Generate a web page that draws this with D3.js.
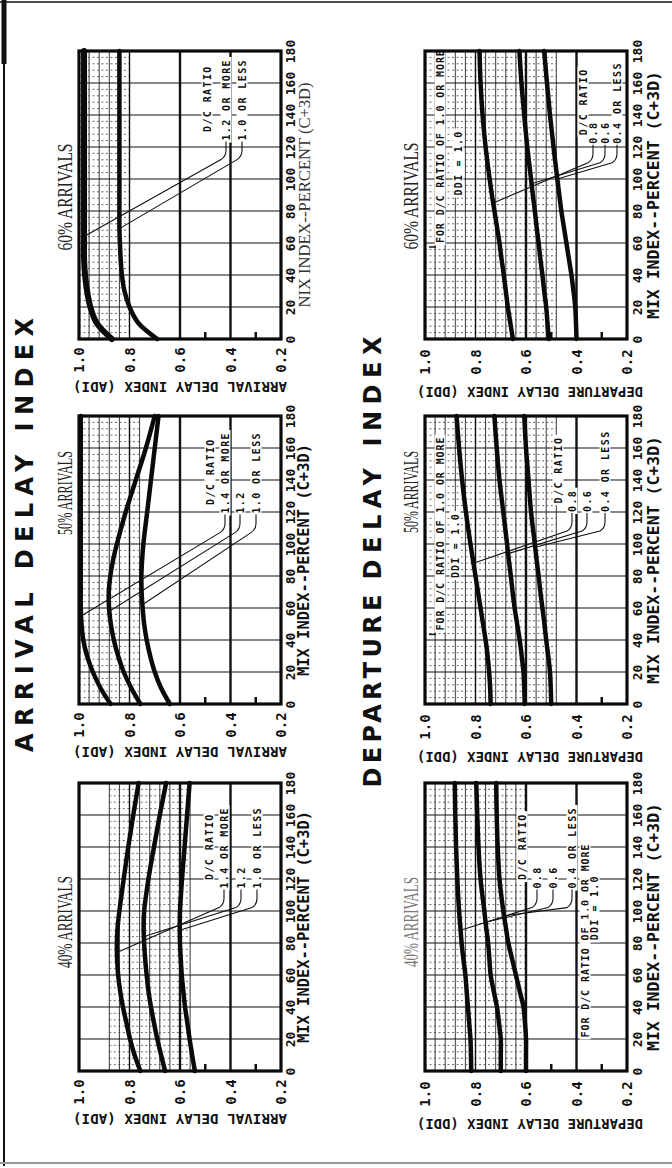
<!DOCTYPE html>
<html>
<head>
<meta charset="utf-8">
<script src="https://cdn.jsdelivr.net/npm/d3@7"></script>
<style>
  body { margin: 0; background: #fff; }
  svg text { font-family: "DejaVu Sans Mono", "Liberation Mono", monospace; font-weight: bold; fill: #111; }
  svg text.serif { font-family: "Liberation Serif", "DejaVu Serif", serif; font-weight: normal; }
  svg text.big { font-family: "DejaVu Sans", "Liberation Sans", sans-serif; font-weight: bold; }
</style>
</head>
<body>
<svg id="chart" width="672" height="1168"></svg>
<script>
// ---- data ----
var mixIndex = [0, 10, 20, 30, 40, 50, 60, 70, 80, 90, 100, 120, 140, 160, 180];
var indexTicks = [1.0, 0.8, 0.6, 0.4, 0.2];
var mixTicks = [0, 20, 40, 60, 80, 100, 120, 140, 160, 180];

var arrLabels2 = ["1.2 OR MORE", "1.0 OR LESS"];
var arrLabels3 = ["1.4 OR MORE", "1.2", "1.0 OR LESS"];
var depLabels = ["0.8", "0.6", "0.4 OR LESS"];

// arrival delay index (ADI), one value per mixIndex point
var adi60_12up = [0.87, 0.93, 0.955, 0.968, 0.976, 0.98, 0.98, 0.98, 0.98, 0.98, 0.98, 0.98, 0.98, 0.98, 0.98];
var adi60_10dn = [0.69, 0.765, 0.80, 0.82, 0.83, 0.835, 0.838, 0.84, 0.84, 0.84, 0.84, 0.84, 0.84, 0.84, 0.84];
var adi50_14up = [0.875, 0.915, 0.945, 0.968, 0.983, 0.99, 0.993, 0.993, 0.993, 0.993, 0.993, 0.993, 0.993, 0.993, 0.993];
var adi50_12 = [0.757, 0.793, 0.823, 0.845, 0.862, 0.874, 0.881, 0.882, 0.876, 0.865, 0.85, 0.815, 0.775, 0.735, 0.70];
var adi50_10dn = [0.64, 0.675, 0.70, 0.718, 0.732, 0.742, 0.748, 0.752, 0.753, 0.75, 0.745, 0.73, 0.715, 0.70, 0.685];
var adi40_14up = [0.757, 0.78, 0.798, 0.812, 0.826, 0.837, 0.845, 0.849, 0.85, 0.847, 0.84, 0.823, 0.805, 0.785, 0.764];
var adi40_12 = [0.659, 0.675, 0.69, 0.703, 0.715, 0.725, 0.732, 0.738, 0.742, 0.744, 0.742, 0.725, 0.703, 0.68, 0.655];
var adi40_10dn = [0.541, 0.552, 0.562, 0.571, 0.58, 0.587, 0.593, 0.597, 0.60, 0.601, 0.60, 0.592, 0.582, 0.572, 0.562];

// departure delay index (DDI)
var ddi60_08 = [0.652, 0.662, 0.672, 0.68, 0.688, 0.697, 0.705, 0.715, 0.725, 0.735, 0.744, 0.76, 0.772, 0.78, 0.784];
var ddi60_06 = [0.51, 0.515, 0.52, 0.528, 0.535, 0.543, 0.55, 0.558, 0.565, 0.573, 0.58, 0.595, 0.607, 0.618, 0.626];
var ddi60_04dn = [0.40, 0.402, 0.405, 0.412, 0.42, 0.43, 0.44, 0.45, 0.46, 0.468, 0.476, 0.491, 0.505, 0.517, 0.528];
var ddi50_08 = [0.74, 0.742, 0.746, 0.752, 0.76, 0.77, 0.78, 0.79, 0.80, 0.81, 0.82, 0.838, 0.853, 0.865, 0.875];
var ddi50_06 = [0.605, 0.607, 0.61, 0.617, 0.625, 0.635, 0.645, 0.653, 0.66, 0.668, 0.675, 0.69, 0.705, 0.716, 0.725];
var ddi50_04dn = [0.50, 0.502, 0.505, 0.512, 0.52, 0.527, 0.535, 0.543, 0.55, 0.558, 0.565, 0.58, 0.59, 0.60, 0.607];
var ddi40_08 = [0.817, 0.818, 0.82, 0.825, 0.83, 0.835, 0.84, 0.848, 0.855, 0.86, 0.865, 0.872, 0.877, 0.88, 0.882];
var ddi40_06 = [0.70, 0.70, 0.70, 0.707, 0.715, 0.728, 0.74, 0.745, 0.75, 0.758, 0.765, 0.78, 0.788, 0.793, 0.797];
var ddi40_04dn = [0.60, 0.60, 0.60, 0.604, 0.61, 0.625, 0.64, 0.655, 0.67, 0.68, 0.69, 0.705, 0.712, 0.716, 0.718];

// ---- layout ----
var svg = d3.select("#chart");
var colLeft = { arr: 79, dep: 425 };
var rowTop = [51, 416, 783];
var boxW = 202, boxH = 288;

var panels = [
  { kind: "arr", row: 0, title: "60% ARRIVALS", tLen: 107, tY: 197, series: [adi60_12up, adi60_10dn], labels: arrLabels2,
    cols: [-74, -55, -39], legendMix: 124, leaderMix: [64, 69], fine: [0, 5], mixTitle: "NIX INDEX--PERCENT (C+3D)" },
  { kind: "arr", row: 1, title: "50% ARRIVALS", tLen: 84, tY: 493, series: [adi50_14up, adi50_12, adi50_10dn], labels: arrLabels3,
    cols: [-71, -56, -41, -25], legendMix: 119, leaderMix: [55, 58, 62], fine: [0, 6] },
  { kind: "arr", row: 2, title: "40% ARRIVALS", tLen: 92, tY: 922, series: [adi40_14up, adi40_12, adi40_10dn], labels: arrLabels3,
    cols: [-72, -57, -40, -24], legendMix: 114, leaderMix: [74, 84, 88], fine: [3, 11] },
  { kind: "dep", row: 0, title: "60% ARRIVALS", tLen: 107, tY: 196, series: [ddi60_08, ddi60_06, ddi60_04dn], labels: depLabels,
    cols: [-44, -34, -22, -10], legendMix: 122, leaderMix: [85, 97, 100], fine: [0, 13],
    note: { x: 440, mix: 60, ddiX: 458, ddiMix: 110, stub: true } },
  { kind: "dep", row: 1, title: "50% ARRIVALS", tLen: 82, tY: 492, series: [ddi50_08, ddi50_06, ddi50_04dn], labels: depLabels,
    cols: [-69, -55, -40, -22], legendMix: 120, leaderMix: [88, 94, 98], fine: [0, 13],
    note: { x: 440, mix: 46, ddiX: 455, ddiMix: 99, stub: true } },
  { kind: "dep", row: 2, title: "40% ARRIVALS", tLen: 90, tY: 922, titleFill: "#777", series: [ddi40_08, ddi40_06, ddi40_04dn], labels: depLabels,
    cols: [-105, -90, -74, -55], legendMix: 114, leaderMix: [88, 93, 97], fine: [0, 10],
    note: { x: 585, mix: 21, ddiX: 594, ddiMix: 102, stub: false } }
];

// rotated (bottom-to-top) text, optionally with a white patch behind it
function vtext(g, x, y, str, o) {
  o = o || {};
  var t = g.append("g").attr("transform", "translate(" + x + "," + y + ") rotate(" + (o.rot || -90) + ")");
  var bg = o.bg ? t.append("rect").attr("fill", "#fff") : null;
  var tx = t.append("text")
    .attr("dy", "0.35em")
    .attr("text-anchor", o.anchor || "start")
    .style("font-size", (o.size || 10) + "px")
    .text(str);
  if (o.cls) tx.attr("class", o.cls);
  if (o.spacing) tx.style("letter-spacing", o.spacing + "px");
  if (o.len) tx.attr("textLength", o.len).attr("lengthAdjust", o.adjust || "spacingAndGlyphs");
  if (o.fill) tx.style("fill", o.fill);
  if (bg) {
    var b = tx.node().getBBox();
    bg.attr("x", b.x - 2).attr("y", b.y).attr("width", b.width + 4).attr("height", b.height);
  }
  return tx;
}

// ---- page frame ----
svg.append("line").attr("x1", 0).attr("x2", 672).attr("y1", 2).attr("y2", 2).attr("stroke", "#111").attr("stroke-width", 1.5);
svg.append("line").attr("x1", 4).attr("x2", 4).attr("y1", 0).attr("y2", 1166).attr("stroke", "#111").attr("stroke-width", 2);
svg.append("line").attr("x1", 4).attr("x2", 4).attr("y1", 0).attr("y2", 64).attr("stroke", "#111").attr("stroke-width", 5);
svg.append("line").attr("x1", 0).attr("x2", 672).attr("y1", 1163).attr("y2", 1163).attr("stroke", "#999").attr("stroke-width", 2);

// ---- big titles ----
vtext(svg, 25, 535, "ARRIVAL DELAY INDEX", { cls: "big", size: 24, anchor: "middle", len: 434, adjust: "spacing" });
vtext(svg, 373, 691, "DEPARTURE", { cls: "big", size: 24, anchor: "middle", len: 193, adjust: "spacing" });
vtext(svg, 373, 458, "DELAY INDEX", { cls: "big", size: 24, anchor: "middle", len: 243, adjust: "spacing" });

// ---- panels ----
panels.forEach(function (p) {
  var x0 = colLeft[p.kind], x1 = x0 + boxW;
  var top = rowTop[p.row], bottom = top + boxH;
  var idx = d3.scaleLinear().domain([1.0, 0.2]).range([x0, x1]);
  var mix = d3.scaleLinear().domain([0, 180]).range([bottom, top]);
  var g = svg.append("g");

  // fine grid (steps of 0.04 in index, 4 in mix index)
  var fineIdx = d3.range(p.fine[0], p.fine[1] + 1).map(function (k) { return +(1 - k * 0.04).toFixed(2); });
  g.selectAll(".fv").data(fineIdx).enter().append("line")
    .attr("x1", function (d) { return idx(d); }).attr("x2", function (d) { return idx(d); })
    .attr("y1", top).attr("y2", bottom)
    .attr("stroke", "#222").attr("stroke-width", 0.9);
  var fineMix = d3.range(4, 180, 4).filter(function (m) { return m % 20 !== 0; });
  g.selectAll(".fh").data(fineMix).enter().append("line")
    .attr("x1", idx(fineIdx[0])).attr("x2", idx(fineIdx[fineIdx.length - 1]))
    .attr("y1", function (d) { return mix(d); }).attr("y2", function (d) { return mix(d); })
    .attr("stroke", "#444").attr("stroke-width", 0.8).attr("stroke-dasharray", "2,2.5");

  // major grid
  g.selectAll(".hm").data(d3.range(20, 180, 20)).enter().append("line")
    .attr("x1", x0).attr("x2", x1)
    .attr("y1", function (d) { return mix(d); }).attr("y2", function (d) { return mix(d); })
    .attr("stroke", "#111").attr("stroke-width", 1.2);
  g.selectAll(".vm").data([0.8, 0.6, 0.4]).enter().append("line")
    .attr("x1", function (d) { return idx(d); }).attr("x2", function (d) { return idx(d); })
    .attr("y1", top).attr("y2", bottom)
    .attr("stroke", "#111").attr("stroke-width", function (d) { return d === 0.8 ? 1.4 : 2.4; });
  g.selectAll(".tk").data([0.5, 0.3]).enter().append("line")
    .attr("x1", function (d) { return idx(d); }).attr("x2", function (d) { return idx(d); })
    .attr("y1", bottom).attr("y2", bottom - 7)
    .attr("stroke", "#111").attr("stroke-width", 2.5);

  // curves
  var line = d3.line()
    .x(function (d) { return idx(d[1]); })
    .y(function (d) { return mix(d[0]); })
    .curve(d3.curveCatmullRom.alpha(0.5));
  p.series.forEach(function (s, i) {
    g.append("path")
      .datum(mixIndex.map(function (m, j) { return [m, s[j]]; }))
      .attr("d", line)
      .attr("fill", "none").attr("stroke", "#0a0a0a")
      .attr("stroke-width", (p.kind === "arr" && p.row === 0 && i === 0) ? 6 : 4.5)
      .attr("stroke-linecap", "round");
  });

  // legend
  var yStart = mix(p.legendMix);
  vtext(g, x1 + p.cols[0], yStart - 42, "D/C RATIO", { size: 10, anchor: "middle", spacing: 1.4, bg: true });
  p.labels.forEach(function (lab, i) {
    var cx = x1 + p.cols[i + 1];
    vtext(g, cx, yStart, lab, { size: 10, anchor: "start", spacing: 1.4, bg: true });
    var at = d3.scaleLinear().domain(mixIndex).range(p.series[i]);
    var ex = idx(at(p.leaderMix[i])), ey = mix(p.leaderMix[i]);
    var path = d3.path();
    path.moveTo(cx, yStart + 1);
    path.lineTo(cx, yStart + 10);
    path.quadraticCurveTo(cx, yStart + 16, cx - 5, yStart + 19);
    path.lineTo(ex, ey);
    g.append("path").attr("d", path.toString())
      .attr("fill", "none").attr("stroke", "#111").attr("stroke-width", 1.1);
  });

  // departure note
  if (p.note) {
    var ny = mix(p.note.mix);
    vtext(g, p.note.x, ny, "FOR D/C RATIO OF 1.0 OR MORE", { size: 10, anchor: "start", spacing: 0.9, bg: true });
    vtext(g, p.note.ddiX, mix(p.note.ddiMix), "DDI = 1.0", { size: 10, anchor: "middle", spacing: 1.2, bg: true });
    if (p.note.stub) {
      g.append("line").attr("x1", x0 + 4).attr("x2", p.note.x - 4)
        .attr("y1", ny + 4).attr("y2", ny + 4).attr("stroke", "#111").attr("stroke-width", 1.5);
    }
  }

  // frame
  g.append("rect").attr("x", x0).attr("y", top).attr("width", boxW).attr("height", boxH)
    .attr("fill", "none").attr("stroke", "#0a0a0a").attr("stroke-width", 3.2);

  // index axis (below the box after rotation)
  var ax = g.append("g").attr("transform", "translate(0," + bottom + ")")
    .call(d3.axisBottom(idx).tickValues(indexTicks).tickSize(0).tickFormat(d3.format(".1f")));
  ax.select(".domain").remove();
  ax.selectAll("text")
    .attr("y", 0).attr("dy", "0.35em")
    .attr("transform", "translate(0," + (p.kind === "arr" ? 21 : 23) + ") rotate(-90)")
    .attr("text-anchor", "middle")
    .style("font-size", "14px");

  // mix index axis (right of the box after rotation)
  var ay = g.append("g").attr("transform", "translate(" + x1 + ",0)")
    .call(d3.axisRight(mix).tickValues(mixTicks).tickSize(0));
  ay.select(".domain").remove();
  ay.selectAll("text")
    .attr("x", 0).attr("dy", "0.35em")
    .attr("transform", "translate(" + (p.kind === "arr" ? 9 : 10) + ",0) rotate(-90)")
    .attr("text-anchor", "middle")
    .style("font-size", "13px");

  // axis titles
  var cxm = (x0 + x1) / 2, cym = (top + bottom) / 2;
  vtext(g, cxm + (p.kind === "arr" ? 0 : 4), bottom + (p.kind === "arr" ? 48 : 53),
    p.kind === "arr" ? "ARRIVAL DELAY INDEX (ADI)" : "DEPARTURE DELAY INDEX (DDI)",
    { rot: 180, size: 14, anchor: "middle", len: p.kind === "arr" ? 214 : 226 });
  if (p.mixTitle) {
    vtext(g, x1 + 23, cym, p.mixTitle, { cls: "serif", size: 17, anchor: "middle", len: 225, fill: "#333" });
  } else {
    vtext(g, x1 + (p.kind === "arr" ? 23 : 27), cym, "MIX INDEX--PERCENT (C+3D)",
      { size: 15, anchor: "middle", len: p.kind === "arr" ? 232 : 248 });
  }

  // panel title
  vtext(g, x0 - 14, p.tY, p.title, { cls: "serif", size: 20, anchor: "middle", len: p.tLen, fill: p.titleFill || "#222" });
});
</script>
</body>
</html>
